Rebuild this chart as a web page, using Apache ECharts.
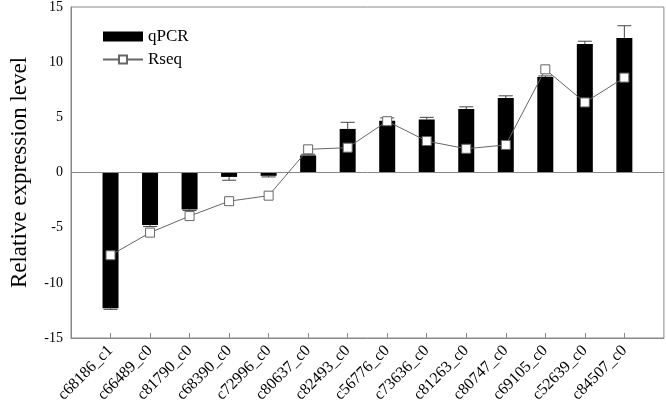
<!DOCTYPE html>
<html>
<head>
<meta charset="utf-8">
<script src="https://cdn.jsdelivr.net/npm/echarts@6/dist/echarts.min.js"></script>
<style>
  html, body { margin: 0; padding: 0; background: #fff; }
  #chart { width: 666px; height: 410px; }
</style>
</head>
<body>
<div id="chart"></div>
<script>
// genes on the x axis
var genes = ["c68186_c1", "c66489_c0", "c81790_c0", "c68390_c0", "c72996_c0", "c80637_c0", "c82493_c0",
  "c56776_c0", "c73636_c0", "c81263_c0", "c80747_c0", "c69105_c0", "c52639_c0", "c84507_c0"];
// qPCR relative expression and its error
var qpcr = [-12.3, -4.75, -3.35, -0.4, -0.3, 1.55, 3.95, 4.7, 4.8, 5.75, 6.75, 8.65, 11.65, 12.2];
var qpcrErr = [0.1, 0.15, 0.1, 0.3, 0.1, 0.1, 0.6, 0.25, 0.2, 0.2, 0.2, 0.1, 0.25, 1.1];
// RNA-seq values
var rseq = [-7.5, -5.45, -3.95, -2.6, -2.1, 2.1, 2.25, 4.65, 2.85, 2.15, 2.5, 9.35, 6.35, 8.6];
var yTicks = [-15, -10, -5, 0, 5, 10, 15];

var font = "'Liberation Serif', 'Times New Roman', serif";

// one empty slot on each side so genes sit at 1..14 on a 0..15 scale
var cats = [""].concat(genes, [""]);
var pad = function (arr) { return ["-"].concat(arr, ["-"]); };

var errData = genes.map(function (g, i) {
  var v = qpcr[i];
  var end = v < 0 ? v - qpcrErr[i] : v + qpcrErr[i];
  return [i + 1, v, end];
});

var chart = echarts.init(document.getElementById("chart"));
chart.setOption({
  animation: false,
  grid: {
    left: 71, right: 2, top: 7, bottom: 72,
    show: true, borderColor: "#888", borderWidth: 1
  },
  legend: {
    left: 97, top: 23, orient: "vertical", itemGap: 6,
    itemWidth: 40, itemHeight: 10,
    textStyle: { fontFamily: font, fontSize: 17, lineHeight: 17, color: "#000" },
    data: [{ name: "qPCR", icon: "rect" }, { name: "Rseq" }]
  },
  xAxis: {
    type: "category",
    data: cats,
    boundaryGap: false,
    axisLine: { onZero: false, lineStyle: { color: "#888" } },
    axisTick: {
      inside: true, length: 5, lineStyle: { color: "#888" },
      interval: function (i, v) { return v !== ""; }
    },
    axisLabel: {
      interval: 0, rotate: 45, margin: 10,
      fontFamily: font, fontSize: 16, color: "#000"
    },
    splitLine: { show: false }
  },
  yAxis: {
    type: "value",
    min: yTicks[0], max: yTicks[yTicks.length - 1], interval: 5,
    name: "Relative expression level",
    nameLocation: "middle", nameGap: 40,
    nameTextStyle: { fontFamily: font, fontSize: 23, color: "#000" },
    axisLine: { show: true, lineStyle: { color: "#888" } },
    axisTick: { show: false },
    axisLabel: { fontFamily: font, fontSize: 14, color: "#000", margin: 8 },
    splitLine: { show: false }
  },
  series: [
    {
      name: "qPCR",
      type: "bar",
      data: pad(qpcr),
      barWidth: 16,
      itemStyle: { color: "#000" },
      markLine: {
        silent: true, symbol: "none", label: { show: false },
        lineStyle: { color: "#888", type: "solid", width: 1 },
        data: [{ yAxis: 0 }]
      }
    },
    {
      name: "err",
      type: "custom",
      data: errData,
      encode: { x: 0, y: [1, 2] },
      z: 3,
      renderItem: function (params, api) {
        var a = api.coord([api.value(0), api.value(1)]);
        var b = api.coord([api.value(0), api.value(2)]);
        var half = 7;
        var style = { stroke: "#444", lineWidth: 1 };
        return {
          type: "group",
          children: [
            { type: "line", shape: { x1: a[0], y1: a[1], x2: b[0], y2: b[1] }, style: style },
            { type: "line", shape: { x1: b[0] - half, y1: b[1], x2: b[0] + half, y2: b[1] }, style: style }
          ]
        };
      }
    },
    {
      name: "Rseq",
      type: "line",
      data: pad(rseq),
      z: 5,
      symbol: "rect",
      symbolSize: 9,
      showAllSymbol: true,
      lineStyle: { color: "#666", width: 1 },
      itemStyle: { color: "#fff", borderColor: "#666", borderWidth: 1 }
    }
  ]
});
</script>
</body>
</html>
